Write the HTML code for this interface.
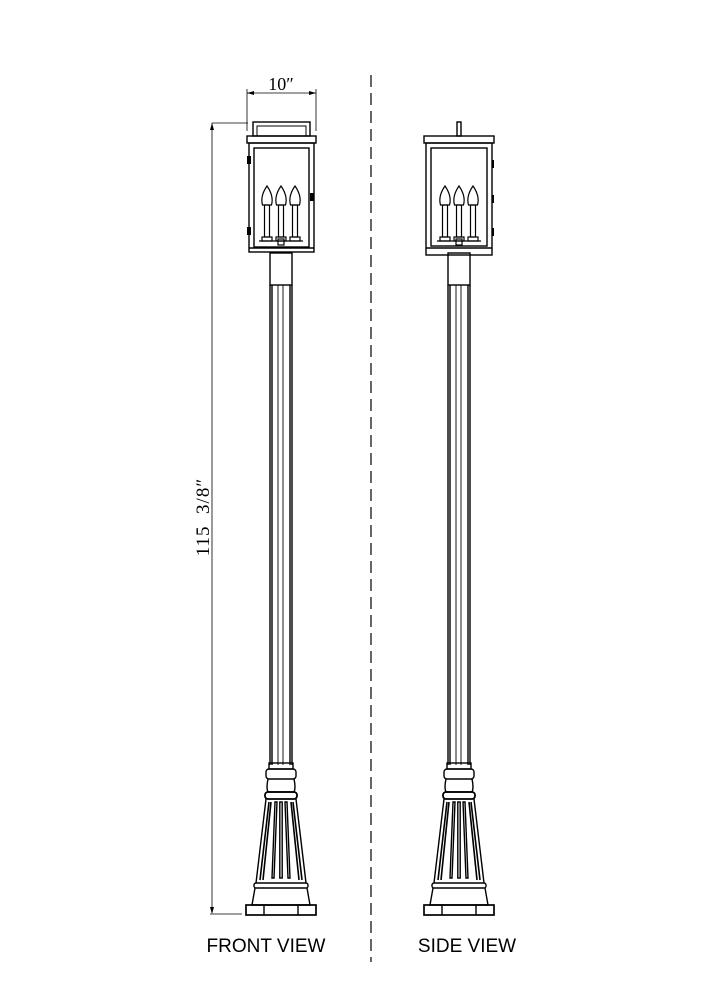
<!DOCTYPE html>
<html><head><style>html,body{margin:0;padding:0;background:#fff}svg{display:block}</style></head><body>
<svg width="707" height="1000" viewBox="0 0 707 1000" xmlns="http://www.w3.org/2000/svg">
<defs>
<g id="post" fill="none" stroke="#000" stroke-width="1.4">
  <rect x="-11" y="253" width="22" height="32"/>
  <line x1="-11" y1="285" x2="-11" y2="765"/>
  <line x1="-9" y1="285" x2="-9" y2="765"/>
  <line x1="-3" y1="285" x2="-3" y2="765" stroke-width="0.9"/>
  <line x1="2" y1="285" x2="2" y2="765" stroke-width="0.9"/>
  <line x1="9" y1="285" x2="9" y2="765"/>
  <line x1="11" y1="285" x2="11" y2="765"/>
  <rect x="-12" y="763" width="24" height="6"/>
  <rect x="-15" y="769" width="30" height="10" rx="3"/>
  <path d="M-13 779 Q-15 788 -13 792 L13 792 Q15 788 13 779"/>
  <rect x="-16" y="792" width="32" height="7" rx="3" stroke-width="1.8"/>
  <path d="M-15 799 L-25 883 M15 799 L25 883"/>
  <path d="M-12 802 L-21 880 M-10 802 L-18 880" stroke-width="1.6"/>
  <path d="M10 802 L18 880 M12 802 L21 880" stroke-width="1.6"/>
  <path d="M-6 802 L-9 878 L-7 878 L-4 802 Z"/>
  <path d="M4 802 L7 878 L9 878 L6 802 Z"/>
  <rect x="-1.2" y="802" width="2.4" height="76"/>
  <rect x="-27" y="883" width="54" height="5" rx="2"/>
  <path d="M-26 888 L-29 905 L29 905 L26 888"/>
  <rect x="-35" y="905" width="70" height="10" stroke-width="1.7"/>
  <line x1="-17" y1="905" x2="-17" y2="915"/>
  <line x1="17" y1="905" x2="17" y2="915"/>
</g>
<g id="candles" fill="none" stroke="#000" stroke-width="1.2">
  <g id="c1">
    <path d="M0 186 Q-7 196 -4.5 205 L4.5 205 Q7 196 0 186 Z"/>
    <rect x="-2.5" y="205" width="5" height="32"/>
    <rect x="-5" y="237" width="10" height="4"/>
  </g>
  <use href="#c1" x="-14"/>
  <use href="#c1" x="14"/>
  <rect x="-3" y="239" width="6" height="6"/>
  <line x1="-22" y1="241" x2="22" y2="241"/>
</g>
</defs>

<g transform="translate(281,0)">
  <use href="#post"/>
  <g fill="none" stroke="#000" stroke-width="1.4">
    <rect x="-28" y="122" width="57" height="14"/>
    <rect x="-24" y="126" width="49" height="10" stroke-width="1"/>
    <rect x="-34" y="136" width="69" height="7"/>
    <rect x="-32" y="143" width="65" height="109"/>
    <rect x="-27" y="148" width="55" height="99"/>
    <line x1="-32" y1="248" x2="33" y2="248"/>
  </g>
  <rect x="-34" y="156" width="4" height="8" fill="#000"/>
  <rect x="-34" y="227" width="4" height="8" fill="#000"/>
  <rect x="29" y="193" width="4" height="8" fill="#000"/>
  <use href="#candles"/>
</g>

<g transform="translate(459,0)">
  <use href="#post"/>
  <g fill="none" stroke="#000" stroke-width="1.4">
    <rect x="-2" y="122" width="4" height="14"/>
    <rect x="-35" y="136" width="70" height="7"/>
    <rect x="-33" y="143" width="66" height="112"/>
    <rect x="-28" y="148" width="56" height="98"/>
    <line x1="-33" y1="248" x2="33" y2="248"/>
  </g>
  <rect x="33" y="160" width="2" height="8" fill="#000"/>
  <rect x="33" y="195" width="2" height="8" fill="#000"/>
  <rect x="33" y="228" width="2" height="8" fill="#000"/>
  <use href="#candles"/>
</g>

<g stroke="#000" stroke-width="0.8" fill="none">
  <line x1="247" y1="93" x2="316" y2="93"/>
  <line x1="247" y1="89" x2="247" y2="131"/>
  <line x1="316" y1="89" x2="316" y2="131"/>
  <line x1="212" y1="123" x2="248" y2="123"/>
  <line x1="212" y1="123" x2="212" y2="913"/>
  <line x1="210" y1="914" x2="242" y2="914"/>
  <line x1="371" y1="75" x2="371" y2="962" stroke-width="1.2" stroke-dasharray="12,6"/>
</g>
<g fill="#000">
  <path d="M247 93 l7 -2 v4 z"/><path d="M316 93 l-7 -2 v4 z"/>
  <path d="M212 123 l-2 7 h4 z"/><path d="M212 914 l-2 -7 h4 z"/>
</g>
<text x="281" y="90" font-family="Liberation Serif, serif" font-size="18" text-anchor="middle">10″</text>
<text transform="translate(209,517) rotate(-90)" font-family="Liberation Serif, serif" font-size="19" letter-spacing="1" text-anchor="middle" xml:space="preserve">115  3/8″</text>
<text x="266" y="952" font-family="Liberation Sans, sans-serif" font-size="19" text-anchor="middle">FRONT VIEW</text>
<text x="467" y="952" font-family="Liberation Sans, sans-serif" font-size="19" text-anchor="middle">SIDE VIEW</text>
</svg>
</body></html>
